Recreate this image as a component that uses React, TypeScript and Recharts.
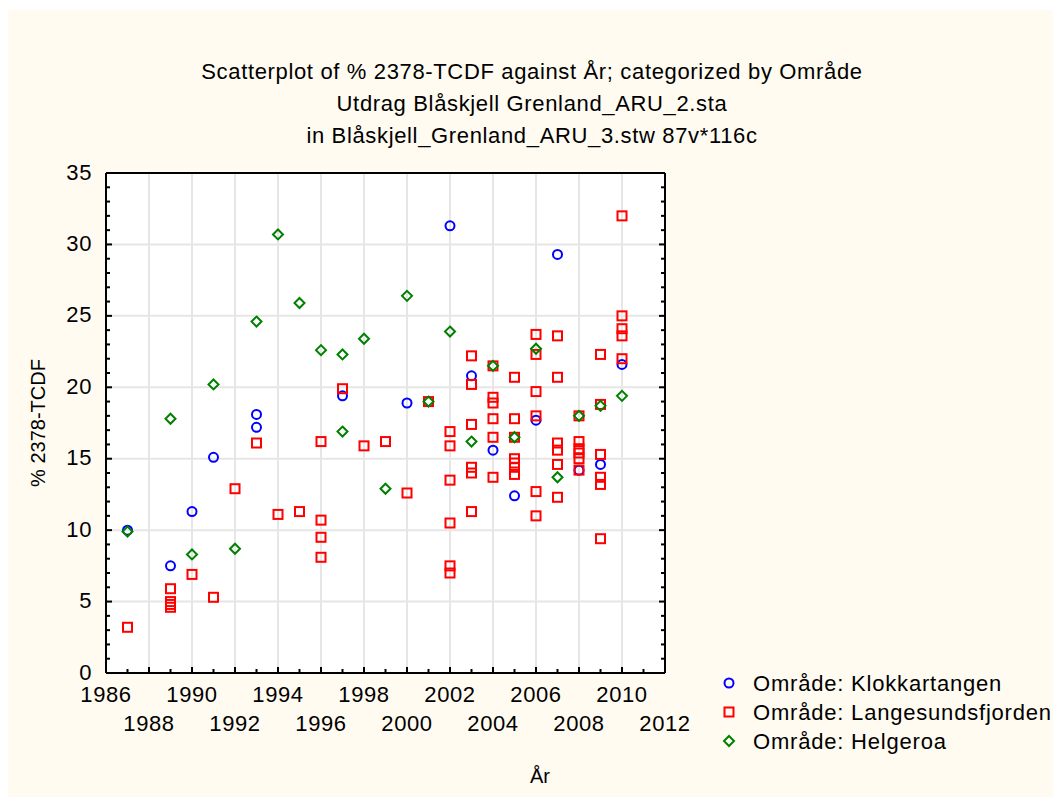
import React from 'react'
import { ScatterChart, Scatter, XAxis, YAxis, ReferenceLine, CartesianGrid, Legend } from 'recharts'

const FONT = '"Liberation Sans", Arial, sans-serif'

const klokkYears = [1987, 1989, 1990, 1991, 1993, 1993, 1997, 2000, 2002, 2003, 2004, 2005, 2006, 2007, 2008, 2009, 2010]
const klokkValues = [10.0, 7.5, 11.3, 15.1, 18.1, 17.2, 19.4, 18.9, 31.3, 20.8, 15.6, 12.4, 17.7, 29.3, 14.2, 14.6, 21.6]

const langYears = [
  1987, 1989, 1989, 1989, 1989, 1990, 1991, 1992, 1993, 1994, 1995,
  1996, 1996, 1996, 1996, 1997, 1998, 1999, 2000, 2001,
  2002, 2002, 2002, 2002, 2002, 2002,
  2003, 2003, 2003, 2003, 2003, 2003,
  2004, 2004, 2004, 2004, 2004, 2004,
  2005, 2005, 2005, 2005, 2005, 2005, 2005,
  2006, 2006, 2006, 2006, 2006, 2006,
  2007, 2007, 2007, 2007, 2007, 2007,
  2008, 2008, 2008, 2008, 2008, 2008,
  2009, 2009, 2009, 2009, 2009, 2009,
  2010, 2010, 2010, 2010, 2010,
]
const langValues = [
  3.2, 5.9, 5.0, 4.8, 4.6, 6.9, 5.3, 12.9, 16.1, 11.1, 11.3,
  16.2, 10.7, 9.5, 8.1, 19.9, 15.9, 16.2, 12.6, 19.0,
  16.9, 15.9, 13.5, 10.5, 7.5, 7.0,
  22.2, 20.2, 17.4, 14.4, 14.0, 11.3,
  21.5, 19.3, 18.9, 17.8, 16.5, 13.7,
  20.7, 17.8, 16.5, 15.0, 14.7, 14.4, 13.9,
  23.7, 22.3, 19.7, 18.0, 12.7, 11.0,
  23.6, 20.7, 16.1, 15.6, 14.6, 12.3,
  18.0, 16.2, 15.7, 15.4, 15.0, 14.2,
  22.3, 18.8, 15.3, 13.7, 13.2, 9.4,
  32.0, 25.0, 24.1, 23.6, 22.0,
]

const helgYears = [1987, 1989, 1990, 1991, 1992, 1993, 1994, 1995, 1996, 1997, 1997, 1998, 1999, 2000, 2001, 2002, 2003, 2004, 2005, 2006, 2007, 2008, 2009, 2010]
const helgValues = [9.9, 17.8, 8.3, 20.2, 8.7, 24.6, 30.7, 25.9, 22.6, 22.3, 16.9, 23.4, 12.9, 26.4, 19.0, 23.9, 16.2, 21.5, 16.5, 22.7, 13.7, 18.0, 18.7, 19.4]

const xTicks = [1986, 1987, 1988, 1989, 1990, 1991, 1992, 1993, 1994, 1995, 1996, 1997, 1998, 1999, 2000, 2001, 2002, 2003, 2004, 2005, 2006, 2007, 2008, 2009, 2010, 2011, 2012]
const yTicks = [0, 1, 2, 3, 4, 5, 6, 7, 8, 9, 10, 11, 12, 13, 14, 15, 16, 17, 18, 19, 20, 21, 22, 23, 24, 25, 26, 27, 28, 29, 30, 31, 32, 33, 34, 35]
const xGrid = [1988, 1990, 1992, 1994, 1996, 1998, 2000, 2002, 2004, 2006, 2008, 2010]
const yGrid = [5, 10, 15, 20, 25, 30]

const titleLines = [
  'Scatterplot of % 2378-TCDF against År; categorized by Område',
  'Utdrag Blåskjell Grenland_ARU_2.sta',
  'in Blåskjell_Grenland_ARU_3.stw 87v*116c',
]

const toPoints = (xs: number[], ys: number[]) => xs.map((x, i) => ({ x, y: ys[i] }))

const BLUE = '#0000FF'
const RED = '#FF0000'
const GREEN = '#008000'

const CircleMark = (p: any) => <circle cx={p.cx} cy={p.cy} r={4.5} fill="none" stroke={BLUE} strokeWidth={2} />
const SquareMark = (p: any) => (
  <rect x={p.cx - 4.5} y={p.cy - 4.5} width={9} height={9} fill="none" stroke={RED} strokeWidth={2} />
)
const DiamondMark = (p: any) => (
  <polygon
    points={`${p.cx},${p.cy - 5} ${p.cx + 5},${p.cy} ${p.cx},${p.cy + 5} ${p.cx - 5},${p.cy}`}
    fill="none"
    stroke={GREEN}
    strokeWidth={2}
  />
)

const series = [
  { name: 'Område: Klokkartangen', mark: CircleMark },
  { name: 'Område: Langesundsfjorden', mark: SquareMark },
  { name: 'Område: Helgeroa', mark: DiamondMark },
]

const tickStyle = { fontFamily: FONT, fontSize: 22, fill: '#000', letterSpacing: 0.6 }
const legendStyle = { fontFamily: FONT, fontSize: 22, fill: '#000', letterSpacing: 0.8 }
const titleStyle = { fontFamily: FONT, fontSize: 20, fill: '#000' }

function BottomTick({ x, y, payload }: any) {
  const v = payload.value
  const major = v % 2 === 0
  const row = v % 4 === 2 ? 0 : 1
  return (
    <g>
      <line x1={x} x2={x} y1={y} y2={y - (major ? 6 : 4)} stroke="#000" strokeWidth={2} />
      {major && (
        <text x={x} y={y + 21 + row * 29} textAnchor="middle" dominantBaseline="central" style={tickStyle}>
          {v}
        </text>
      )}
    </g>
  )
}

function TopTick({ x, y, payload }: any) {
  const major = payload.value % 2 === 0
  return <line x1={x} x2={x} y1={y} y2={y + (major ? 6 : 4)} stroke="#000" strokeWidth={2} />
}

function LeftTick({ x, y, payload }: any) {
  const v = payload.value
  const major = v % 5 === 0
  return (
    <g>
      <line x1={x} x2={x + (major ? 6 : 4)} y1={y} y2={y} stroke="#000" strokeWidth={2} />
      {major && (
        <text x={x - 14} y={y - 1} textAnchor="end" dominantBaseline="central" style={tickStyle}>
          {v}
        </text>
      )}
    </g>
  )
}

function RightTick({ x, y, payload }: any) {
  const major = payload.value % 5 === 0
  return <line x1={x} x2={x - (major ? 6 : 4)} y1={y} y2={y} stroke="#000" strokeWidth={2} />
}

function YTitle({ viewBox }: any) {
  const cx = viewBox.x - 8
  const cy = viewBox.y + viewBox.height / 2
  return (
    <text x={cx} y={cy} transform={`rotate(-90 ${cx} ${cy})`} textAnchor="middle" dominantBaseline="central" style={titleStyle}>
      % 2378-TCDF
    </text>
  )
}

function XTitle({ viewBox }: any) {
  return (
    <text x={viewBox.x + 434} y={viewBox.y + 103} textAnchor="middle" dominantBaseline="central" style={titleStyle}>
      År
    </text>
  )
}

function LegendBox() {
  return (
    <svg width={345} height={100}>
      {series.map((s, i) => {
        const cy = 18 + i * 29
        const Mark = s.mark
        return (
          <g key={s.name}>
            <Mark cx={13} cy={cy} />
            <text x={37} y={cy} dominantBaseline="central" style={legendStyle}>
              {s.name}
            </text>
          </g>
        )
      })}
    </svg>
  )
}

const axisLine = { stroke: '#000', strokeWidth: 2 }

export default function App() {
  return (
    <div style={{ position: 'relative', left: -2, top: 2, width: 1055, height: 789, background: '#FFFBF0' }}>
      {titleLines.map((t, i) => (
        <div
          key={i}
          style={{
            position: 'absolute',
            left: 0,
            width: 1052,
            top: 50 + i * 32,
            lineHeight: '24px',
            textAlign: 'center',
            fontFamily: FONT,
            fontSize: 22,
            letterSpacing: 0.65,
            color: '#000',
          }}
        >
          {t}
        </div>
      ))}
      <div style={{ position: 'absolute', left: 0, top: 0 }}>
        <ScatterChart width={1055} height={789} margin={{ top: 153, right: 386, bottom: 66, left: 40 }}>
          <CartesianGrid fill="#FFFFFF" horizontal={false} vertical={false} xAxisId="b" yAxisId="l" />
          {xGrid.map((g) => (
            <ReferenceLine key={'x' + g} x={g} xAxisId="b" yAxisId="l" stroke="#E6E6E6" strokeWidth={2} />
          ))}
          {yGrid.map((g) => (
            <ReferenceLine key={'y' + g} y={g} xAxisId="b" yAxisId="l" stroke="#E6E6E6" strokeWidth={2} />
          ))}
          <XAxis
            xAxisId="b"
            type="number"
            dataKey="x"
            domain={[1986, 2012]}
            ticks={xTicks}
            interval={0}
            height={60}
            tickSize={0}
            tickMargin={0}
            tickLine={false}
            axisLine={axisLine}
            tick={<BottomTick />}
            label={<XTitle />}
            allowDataOverflow
          />
          <XAxis
            xAxisId="t"
            orientation="top"
            type="number"
            domain={[1986, 2012]}
            ticks={xTicks}
            interval={0}
            height={10}
            tickSize={0}
            tickMargin={0}
            tickLine={false}
            axisLine={axisLine}
            tick={<TopTick />}
            allowDataOverflow
          />
          <YAxis
            yAxisId="l"
            type="number"
            dataKey="y"
            domain={[0, 35]}
            ticks={yTicks}
            interval={0}
            width={60}
            tickSize={0}
            tickMargin={0}
            tickLine={false}
            axisLine={axisLine}
            tick={<LeftTick />}
            label={<YTitle />}
            allowDataOverflow
          />
          <YAxis
            yAxisId="r"
            orientation="right"
            type="number"
            domain={[0, 35]}
            ticks={yTicks}
            interval={0}
            width={10}
            tickSize={0}
            tickMargin={0}
            tickLine={false}
            axisLine={axisLine}
            tick={<RightTick />}
            allowDataOverflow
          />
          <Scatter
            name={series[0].name}
            data={toPoints(klokkYears, klokkValues)}
            xAxisId="b"
            yAxisId="l"
            shape={CircleMark}
            isAnimationActive={false}
          />
          <Scatter
            name={series[1].name}
            data={toPoints(langYears, langValues)}
            xAxisId="b"
            yAxisId="l"
            shape={SquareMark}
            isAnimationActive={false}
          />
          <Scatter
            name={series[2].name}
            data={toPoints(helgYears, helgValues)}
            xAxisId="b"
            yAxisId="l"
            shape={DiamondMark}
            isAnimationActive={false}
          />
          <Legend
            layout="horizontal"
            align="center"
            verticalAlign="middle"
            content={<LegendBox />}
            wrapperStyle={{ left: 710, top: 655, width: 345, height: 100 }}
          />
        </ScatterChart>
      </div>
    </div>
  )
}
